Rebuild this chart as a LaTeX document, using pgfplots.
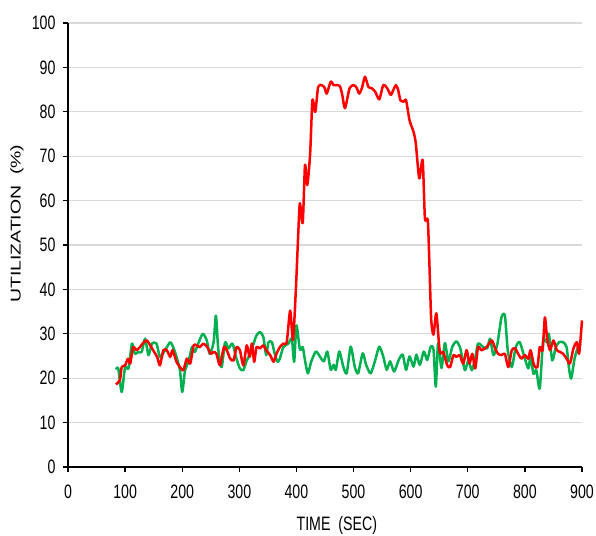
\documentclass[border=0pt]{standalone}
\usepackage{fontspec}
\setmainfont{Liberation Sans}[FakeStretch=0.73]
\newfontfamily\plainsans{Liberation Sans}
\usepackage{pgfplots}
\pgfplotsset{compat=1.18}
\definecolor{utilred}{RGB}{255,0,0}
\definecolor{utilgreen}{RGB}{0,176,80}
\definecolor{gridgray}{RGB}{217,217,217}

\begin{document}
\begin{tikzpicture}
\begin{axis}[
  scale only axis, width=514bp, height=444bp,
  xmin=0, xmax=900, ymin=0, ymax=100,
  xtick={0,100,...,900}, ytick={0,10,...,100},
  axis x line*=bottom, axis y line*=left,
  axis line style={-, line width=1.3bp, black},
  tick align=outside, major tick length=5bp,
  tick style={line width=1.3bp, black},
  ymajorgrids, grid style={gridgray, line width=1.3bp},
  tick label style={font=\fontsize{19.5}{22}\selectfont},
  xticklabel style={yshift=-9bp},
  yticklabel style={xshift=-4bp},
  /pgf/number format/assume math mode=true,
  xlabel={TIME\ \ (SEC)},
  xlabel style={at={(rel axis cs:0.523,-0.1441)}, anchor=base,
    font=\fontsize{19.5}{22}\selectfont},
  ylabel={UTILIZATION\ \ (\%)},
  ylabel style={at={(rel axis cs:-0.0992,0.548)}, anchor=center, yscale=0.73,
    font=\plainsans\fontsize{19.5}{22}\selectfont},
  clip=false,
]
\coordinate (o) at (rel axis cs:0,0);
% green series (drawn first)
\addplot[utilgreen, line width=2.5bp, line join=round, smooth, tension=0.4] coordinates {
(84,22) (88,22.2) (94,16.9) (100,22.5) (106,22.2) (112,27.8) (117,25.5) (123,25.9)
(129,25.9) (135,28.9) (141,25.2) (147,27.8) (155,27.8) (161,24.8) (170,26.3) (179,28.1)
(185,26.7) (190,24.8) (196,21.8) (200,16.9) (205,21.8) (211,23.7) (217,27) (222,25.9)
(228,27.8) (236,30) (243,28.5) (248,25.5) (255,28.1) (259,34.1) (263,26.7) (269,22.5)
(275,28.1) (281,26.7) (288,27.8) (295,24.4) (301,22.2) (307,21.8) (313,24) (319,25.5)
(325,27.8) (330,29.6) (336,30.4) (342,29.3) (347,25.2) (351,28.1) (357,28.1) (362,25.5)
(367,23.7) (371,24.4) (377,27) (386,27.8) (392,28.9) (396,23.7) (400,31.9) (406,26.5)
(411,27) (415,24) (420,21.1) (426,23.8) (434,26) (441,24.9) (448,23.8) (454,26)
(460,21.9) (465,23) (469,21.9) (475,26) (482,22.6) (488,21.1) (495,27.1) (502,22.6)
(508,21.1) (516,25.6) (522,23) (530,21.1) (538,24.1) (545,27.1) (552,24.9) (558,21.9)
(564,23.8) (571,21.5) (579,24.1) (586,25.3) (592,21.9) (598,24.9) (605,22.6) (610,25.3)
(616,23) (623,26) (629,24.1) (635,27.1) (640,26.4) (644,18.1) (648,27.9) (654,22.3)
(660,27.9) (666,23.8) (673,27.1) (680,28.3) (686,27.1) (689,25.5) (695,21.8) (701,24)
(707,21.8) (713,24.4) (718,27.8) (727,27) (734,26.7) (739,28.9) (745,25.2) (752,27.8)
(759,33.7) (765,34.1) (770,26.3) (777,22.5) (784,27) (791,28.1) (800,24.4) (806,22.2)
(810,24.8) (815,21) (820,21.8) (826,17.7) (832,28.5) (838,28.1) (842,30) (848,24)
(854,27) (860,28.1) (867,28.1) (873,27) (877,22.5) (881,19.9) (887,24.4) (893,27)
(898,27.8)
};
% red series
\addplot[utilred, line width=2.5bp, line join=round, smooth, tension=0.4] coordinates {
(84,18.6) (91,19.6) (94,22.5) (100,22.9) (105,24.4) (109,23.3) (114,27) (120,26.3)
(126,27) (132,28) (138,28.5) (144,27.4) (149,26.3) (156,24.8) (161,22.9) (167,26.3)
(173,26.3) (179,24.8) (183,26.3) (190,23.7) (196,22.5) (202,21.8) (208,24.4) (214,23.3)
(220,27.4) (225,27.4) (231,27) (237,27.8) (244,27) (250,25.5) (255,25.9) (260,25.5)
(266,22.9) (273,27) (278,26.3) (284,24.4) (290,24) (295,27) (301,26.3) (307,22.9)
(313,27.4) (318,24.8) (322,27.8) (326,23.7) (330,27) (336,26.7) (342,27.4) (347,26.3)
(354,25.2) (360,23.7) (365,25.5) (371,27) (377,27.8) (383,28.1) (389,35.2) (394,28.6)
(399,40) (403,52) (406,59.4) (411,55) (415,68) (419,63.5) (424,70.6) (428,82.6)
(433,80) (438,85.6) (444,86) (449,85.5) (453,84.1) (460,86.8) (465,86) (470,86)
(476,85.8) (480,84) (485,80.8) (493,85.3) (500,86) (505,85.5) (510,84.1) (515,85.5)
(520,87.9) (526,85.6) (532,85.3) (538,84.5) (545,82.8) (552,86) (559,85.3) (565,83.8)
(570,85) (574,86) (578,85) (582,82.6) (588,82.3) (592,82.6) (598,78.1) (605,75.5)
(609,72.9) (615,65) (621,69.1) (625,56) (630,55.6) (633,45) (636,33.1) (640,29.8)
(645,34.6) (651,25.9) (657,25.9) (664,22.9) (669,22.5) (675,25.2) (680,24.8) (686,25.2)
(692,23.3) (698,26.3) (703,23.3) (708,25.5) (713,22.2) (718,27) (724,26.3) (733,27)
(742,28.5) (748,26.7) (753,25.5) (759,25.2) (765,25.5) (771,22.5) (777,26.3) (783,26.7)
(788,25.5) (794,24.4) (800,25.2) (806,24.4) (810,26.3) (816,22.9) (822,22.5) (826,27)
(831,26.3) (835,33.7) (839,28.9) (844,26.3) (850,28.5) (856,26.3) (862,25.9) (867,25.5)
(873,24.4) (879,23.3) (885,26.7) (891,28.1) (895,25.5) (900,33)
};
\end{axis}
\pgfresetboundingbox
\path[use as bounding box] ([shift={(-68bp,-69bp)}]o) rectangle ++(596bp,536bp);
\end{tikzpicture}
\end{document}
